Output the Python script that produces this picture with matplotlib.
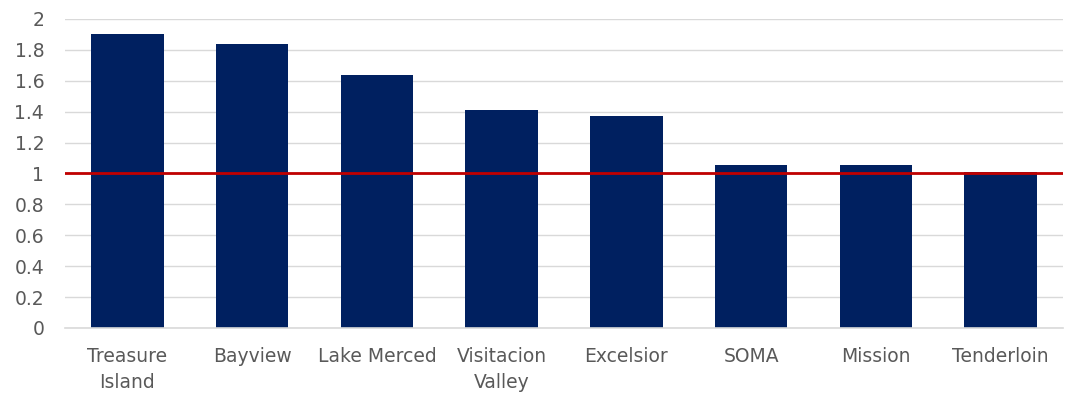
import matplotlib
matplotlib.use("Agg")
from matplotlib import pyplot as plt

neighborhoods = ["Treasure\nIsland", "Bayview", "Lake Merced", "Visitacion\nValley",
                 "Excelsior", "SOMA", "Mission", "Tenderloin"]
ratios = [1.90, 1.84, 1.64, 1.41, 1.37, 1.055, 1.055, 1.01]
citywide = 1.0

navy = "#002060"
red = "#C00000"
textgray = "#595959"

plt.rcParams["font.family"] = ["DejaVu Sans"]

fig = plt.figure(figsize=(10.68, 3.93), dpi=100)
ax = fig.add_axes([0.0609, 0.1654, 0.9344, 0.7863])

x = range(len(neighborhoods))
ax.bar(x, ratios, width=0.58, color=navy, zorder=2)
ax.axhline(citywide, color=red, linewidth=2.0, zorder=3)

ax.set_xlim(-0.5, len(neighborhoods) - 0.5)
ax.set_ylim(0, 2)
ax.set_yticks([i / 5 for i in range(11)])
ax.set_yticklabels(["0", "0.2", "0.4", "0.6", "0.8", "1", "1.2", "1.4", "1.6", "1.8", "2"])
ax.set_xticks(list(x))
ax.set_xticklabels(neighborhoods, linespacing=1.45)

ax.grid(axis="y", color="#D9D9D9", linewidth=1, zorder=0)
for side in ["top", "right", "left"]:
    ax.spines[side].set_visible(False)
ax.spines["bottom"].set_color("#D9D9D9")
ax.spines["bottom"].set_linewidth(1.2)
ax.tick_params(axis="both", length=0, labelsize=13.5, labelcolor=textgray)
ax.tick_params(axis="x", pad=14)
ax.tick_params(axis="y", pad=15)

plt.savefig("out.png", dpi=100)
